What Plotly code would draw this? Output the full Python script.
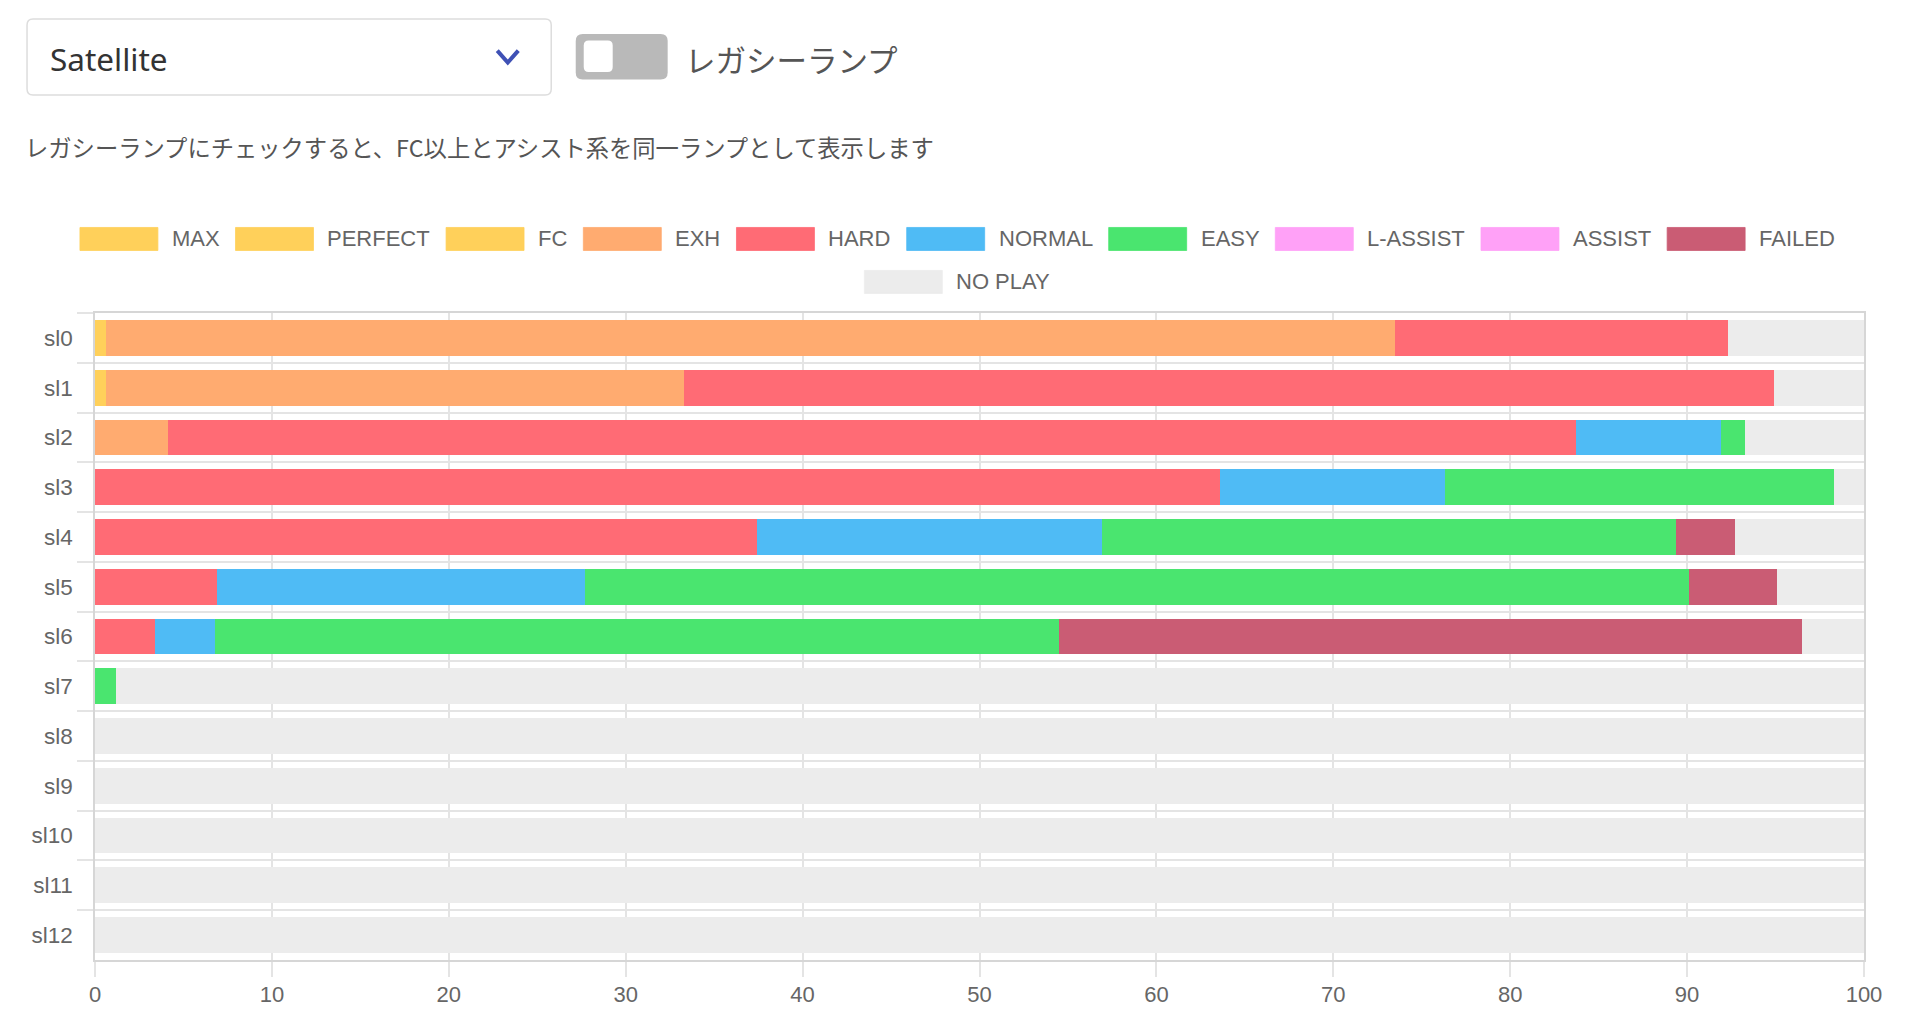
import plotly.graph_objects as go

# ----------------------------------------------------------------------------
# data (percent of charts per level)
# ----------------------------------------------------------------------------
categories = ["sl0", "sl1", "sl2", "sl3", "sl4", "sl5", "sl6",
              "sl7", "sl8", "sl9", "sl10", "sl11", "sl12"]

lamp_names = ["MAX", "PERFECT", "FC", "EXH", "HARD", "NORMAL", "EASY",
              "L-ASSIST", "ASSIST", "FAILED", "NO PLAY"]
lamp_colors = ["#ffd05a", "#ffd05a", "#ffd05a", "#ffab70", "#ff6b75",
               "#4fbbf5", "#4ae56f", "#ffa1f7", "#ffa1f7", "#ca5c74", "#ececec"]

max_vals      = [0, 0, 0, 0, 0, 0, 0, 0, 0, 0, 0, 0, 0]
perfect_vals  = [0, 0, 0, 0, 0, 0, 0, 0, 0, 0, 0, 0, 0]
fc_vals       = [0.6, 0.6, 0, 0, 0, 0, 0, 0, 0, 0, 0, 0, 0]
exh_vals      = [72.9, 32.7, 4.1, 0, 0, 0, 0, 0, 0, 0, 0, 0, 0]
hard_vals     = [18.8, 61.6, 79.6, 63.6, 37.4, 6.9, 3.4, 0, 0, 0, 0, 0, 0]
normal_vals   = [0, 0, 8.2, 12.7, 19.5, 20.8, 3.4, 0, 0, 0, 0, 0, 0]
easy_vals     = [0, 0, 1.4, 22.0, 32.5, 62.4, 47.7, 1.2, 0, 0, 0, 0, 0]
l_assist_vals = [0, 0, 0, 0, 0, 0, 0, 0, 0, 0, 0, 0, 0]
assist_vals   = [0, 0, 0, 0, 0, 0, 0, 0, 0, 0, 0, 0, 0]
failed_vals   = [0, 0, 0, 0, 3.3, 5.0, 42.0, 0, 0, 0, 0, 0, 0]
no_play_vals  = [7.7, 5.1, 6.7, 1.7, 7.3, 4.9, 3.5, 98.8, 100, 100, 100, 100, 100]

series = [max_vals, perfect_vals, fc_vals, exh_vals, hard_vals, normal_vals,
          easy_vals, l_assist_vals, assist_vals, failed_vals, no_play_vals]

x_ticks = [0, 10, 20, 30, 40, 50, 60, 70, 80, 90, 100]

song_options = ["Satellite"]
toggle_label = "レガシーランプ"
help_text = "レガシーランプにチェックすると、FC以上とアシスト系を同一ランプとして表示します"

# ----------------------------------------------------------------------------
# page geometry. Positions below are window pixels; the page body has an
# 8px margin, so the figure itself is 8px smaller and shifted.
# ----------------------------------------------------------------------------
OFF = 8
W, H = 1919 - OFF, 1031 - OFF
ML, MR, MT, MB = 94.5 - OFF, 54.5, 313.3 - OFF, 71
PW = W - ML - MR
PH = H - MT - MB

GRID = "#e4e4e4"
TEXT = "#666666"
FONT = "Liberation Sans"
JP_FONT = "Noto Sans CJK JP"


def px(x):
    return (x - OFF - ML) / PW


def py(y):
    return 1 - (y - OFF - MT) / PH


def rounded_rect(x0, y0, x1, y1, r):
    return (f"M {px(x0 + r)},{py(y0)} L {px(x1 - r)},{py(y0)} "
            f"Q {px(x1)},{py(y0)} {px(x1)},{py(y0 + r)} L {px(x1)},{py(y1 - r)} "
            f"Q {px(x1)},{py(y1)} {px(x1 - r)},{py(y1)} L {px(x0 + r)},{py(y1)} "
            f"Q {px(x0)},{py(y1)} {px(x0)},{py(y1 - r)} L {px(x0)},{py(y0 + r)} "
            f"Q {px(x0)},{py(y0)} {px(x0 + r)},{py(y0)} Z")


# Arial/Liberation Sans advance widths (per 1000 em) for legend layout
CHAR_W = {"A": 667, "C": 722, "D": 722, "E": 667, "F": 611, "H": 722, "I": 278,
          "L": 556, "M": 833, "N": 722, "O": 778, "P": 667, "R": 722, "S": 667,
          "T": 611, "X": 667, "Y": 667, "-": 333, " ": 278}


def text_width(s, size):
    return sum(CHAR_W.get(c, 600) for c in s) * size / 1000.0


# ----------------------------------------------------------------------------
# figure
# ----------------------------------------------------------------------------
fig = go.Figure()

for name, color, vals in zip(lamp_names, lamp_colors, series):
    fig.add_trace(go.Bar(
        y=categories,
        x=vals,
        name=name,
        orientation="h",
        marker=dict(color=color, line=dict(width=0)),
        showlegend=False,
    ))

shapes = []
annotations = []

# legend drawn Chart.js-style: wide boxes, two centred rows
LEG_SIZE = 22
BOX_W, BOX_H, BOX_GAP, ITEM_GAP = 78, 23, 12, 18
legend_rows = [lamp_names[:10], lamp_names[10:]]
row_y = [239.3, 282.3]
center_x = 957
for row, yc in zip(legend_rows, row_y):
    widths = [BOX_W + BOX_GAP + text_width(n, LEG_SIZE) for n in row]
    total = sum(widths) + ITEM_GAP * (len(row) - 1)
    x = center_x - total / 2
    for n, w in zip(row, widths):
        c = lamp_colors[lamp_names.index(n)]
        shapes.append(dict(type="rect", xref="paper", yref="paper",
                           x0=px(x), x1=px(x + BOX_W),
                           y0=py(yc + BOX_H / 2), y1=py(yc - BOX_H / 2),
                           fillcolor=c, line=dict(width=0.8, color=c)))
        annotations.append(dict(x=px(x + BOX_W + BOX_GAP), y=py(yc),
                                xref="paper", yref="paper", text=n,
                                xanchor="left", yanchor="middle", showarrow=False,
                                font=dict(family=FONT, size=LEG_SIZE, color=TEXT)))
        x += w + ITEM_GAP

# select box with chevron
shapes.append(dict(type="path", xref="paper", yref="paper",
                   path=rounded_rect(26.5, 19.5, 551, 95.5, 6),
                   fillcolor="white", line=dict(color="#dddddd", width=1.5)))
shapes.append(dict(type="path", xref="paper", yref="paper",
                   path=f"M {px(497)},{py(51)} L {px(507.5)},{py(63)} L {px(518)},{py(51)}",
                   line=dict(color="#3f51b5", width=4)))
annotations.append(dict(x=px(47), y=py(59), xref="paper", yref="paper",
                        text=song_options[0], xanchor="left", yanchor="middle",
                        showarrow=False,
                        font=dict(family="Noto Sans", size=31.5, color="#333333")))

# toggle switch (off)
shapes.append(dict(type="path", xref="paper", yref="paper",
                   path=rounded_rect(575.5, 34.5, 667.5, 80, 7),
                   fillcolor="#b9b9b9", line=dict(width=0)))
shapes.append(dict(type="path", xref="paper", yref="paper",
                   path=rounded_rect(583.5, 41, 612.5, 72.5, 5),
                   fillcolor="white", line=dict(width=0)))
annotations.append(dict(x=px(683), y=py(59), xref="paper", yref="paper",
                        text=toggle_label, xanchor="left", yanchor="middle",
                        showarrow=False,
                        font=dict(family=JP_FONT, size=30.5, color="#555555")))

# help text
annotations.append(dict(x=px(22), y=py(147), xref="paper", yref="paper",
                        text=help_text, xanchor="left", yanchor="middle",
                        showarrow=False,
                        font=dict(family=JP_FONT, size=23.3, color="#555555")))

fig.update_layout(
    width=W,
    height=H,
    barmode="stack",
    bargap=0.28,
    margin=dict(l=ML, r=MR, t=MT, b=MB, pad=0),
    paper_bgcolor="white",
    plot_bgcolor="white",
    shapes=shapes,
    annotations=annotations,
    xaxis=dict(
        range=[0, 100],
        tickvals=x_ticks,
        showgrid=True,
        gridcolor=GRID,
        gridwidth=1.5,
        zeroline=False,
        showline=True,
        linecolor="#d6d6d6",
        linewidth=1.5,
        mirror=True,
        ticks="outside",
        ticklen=15,
        tickwidth=1.5,
        tickcolor=GRID,
        ticklabelstandoff=-1,
        tickfont=dict(family=FONT, size=22, color=TEXT),
        fixedrange=True,
    ),
    yaxis=dict(
        type="category",
        autorange="reversed",
        tickson="boundaries",
        showgrid=True,
        gridcolor=GRID,
        gridwidth=1.5,
        showline=True,
        linecolor="#d6d6d6",
        linewidth=1.5,
        mirror=True,
        ticks="outside",
        ticklen=16,
        tickwidth=1.5,
        tickcolor=GRID,
        ticklabelstandoff=16,
        tickfont=dict(family=FONT, size=22.5, color=TEXT),
        fixedrange=True,
    ),
)

fig.write_html("out.html")
